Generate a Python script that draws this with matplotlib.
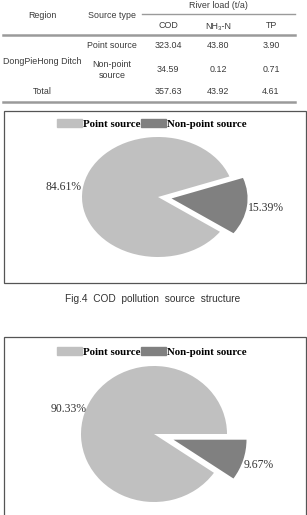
import matplotlib
matplotlib.use("Agg")
import matplotlib.pyplot as plt
from matplotlib.lines import Line2D
from matplotlib.patches import Rectangle

W, H = 307, 515

# ---- data ----
table_header_region = "Region"
table_header_source = "Source type"
table_header_group = "River load (t/a)"
table_cols = ["COD", "NH₃-N", "TP"]
region_name = "DongPieHong Ditch"
source_types = ["Point source", "Non-point\nsource"]
point_vals = ["323.04", "43.80", "3.90"]
nonpoint_vals = ["34.59", "0.12", "0.71"]
total_vals = ["357.63", "43.92", "4.61"]

pie_labels = ["Point source", "Non-point source"]
pie1_values = [84.61, 15.39]
pie2_values = [90.33, 9.67]
pie_colors = ["#c0c0c0", "#808080"]
caption = "Fig.4  COD  pollution  source  structure"

fig = plt.figure(figsize=(W / 100, H / 100), dpi=100)
fig.patch.set_facecolor("white")

def fx(x):
    return x / W

def fy(y):
    return 1 - y / H

sans = ["Liberation Sans", "DejaVu Sans"]
tcol = "#3a3a3a"
fs = 6.4

def t(x, y, s, **kw):
    fig.text(fx(x), fy(y), s, ha="center", va="center", fontsize=fs,
             color=tcol, family=sans, **kw)

def hline(x0, x1, y, lw=1.0, c="#9a9a9a"):
    fig.add_artist(Line2D([fx(x0), fx(x1)], [fy(y), fy(y)], lw=lw, color=c,
                          transform=fig.transFigure))

# ---- table ----
t(42, 15, table_header_region)
t(112, 15, table_header_source)
t(218, 5, table_header_group)
hline(142, 295, 14.5, lw=1.0)
col_x = [168, 218, 271]
for x, c in zip(col_x, table_cols):
    t(x, 26, c)
hline(3, 295, 35, lw=1.8)
t(42, 61, region_name)
t(112, 46, source_types[0])
t(112, 70, source_types[1], linespacing=1.3)
for x, v in zip(col_x, point_vals):
    t(x, 46, v)
for x, v in zip(col_x, nonpoint_vals):
    t(x, 70, v)
t(42, 92, "Total")
for x, v in zip(col_x, total_vals):
    t(x, 92, v)
hline(3, 295, 101.5, lw=1.8)

# ---- boxes ----
def box(x0, y0, x1, y1):
    fig.add_artist(Rectangle((fx(x0), fy(y1)), fx(x1) - fx(x0), fy(y0) - fy(y1),
                             transform=fig.transFigure, fill=False,
                             edgecolor="#555555", lw=0.9))

box(3.5, 111, 306, 283)
box(3.5, 337, 306, 520)

serif = ["Liberation Serif", "DejaVu Serif"]

def legend(y):
    fig.legend(handles=[Rectangle((0, 0), 1, 1, color=c) for c in pie_colors],
               labels=pie_labels, loc="center", bbox_to_anchor=(fx(152), fy(y)),
               ncol=2, frameon=False, handlelength=2.3, handleheight=0.8,
               handletextpad=0.15, columnspacing=0.0,
               prop={"family": serif, "weight": "bold", "size": 7.8})

def pie(values, cx, cy, rx, ry, start, explode, pctd):
    L = 1.7
    ax = fig.add_axes([fx(cx - rx * L), fy(cy + ry * L), 2 * rx * L / W, 2 * ry * L / H])
    ax.pie(values, colors=pie_colors, startangle=start, explode=[0, explode],
           autopct="%.2f%%", pctdistance=pctd, radius=1.0,
           wedgeprops={"linewidth": 0},
           textprops={"family": serif, "size": 8.4, "color": "#333333"})
    ax.set_aspect("auto")
    ax.set_xlim(-L, L)
    ax.set_ylim(-L, L)
    ax.axis("off")

legend(124)
pie(pie1_values, 158, 197, 76, 60, 20.0, 0.18, 1.25)

fig.text(fx(153), fy(299), caption, ha="center", va="center", fontsize=7.3,
         color="#333333", family=sans)

legend(352)
pie(pie2_values, 154, 434, 73, 68, 0.0, 0.28, 1.22)

fig.savefig("out.png", dpi=100, facecolor="white")
